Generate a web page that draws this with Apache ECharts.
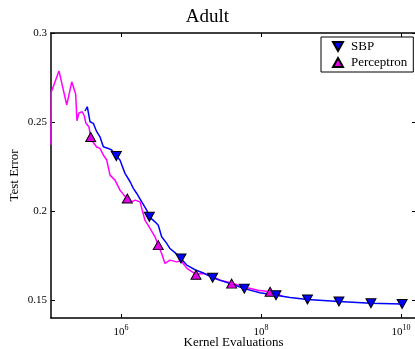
<!DOCTYPE html>
<html><head><meta charset="utf-8">
<script src="https://cdn.jsdelivr.net/npm/echarts@6/dist/echarts.min.js"></script>
<style>html,body{margin:0;padding:0;background:#fff}#c{width:415px;height:349px}</style>
</head><body><div id="c"></div>
<script>
// Kernel evaluations (x) and test error (y)
const sbpX = [3.06e5,3.30e5,3.61e5,4.02e5,4.50e5,5.01e5,5.59e5,6.59e5,7.36e5,8.57e5,9.67e5,1.14e6,1.35e6,1.50e6,1.68e6,1.98e6,2.33e6,2.54e6,3.06e6,3.41e6,3.81e6,4.50e6,5.01e6,5.91e6,7.20e6,8.68e6,9.67e6,1.14e7,1.50e7,2.04e7,3.06e7,4.25e7,5.77e7,9.67e7,1.64e8,2.60e8,4.62e8,1.30e9,3.73e9,1.04e10];
const sbpY = [0.2562,0.2586,0.2502,0.2493,0.2446,0.2417,0.2361,0.2352,0.2343,0.2309,0.2287,0.2212,0.2165,0.2128,0.2099,0.2052,0.2006,0.1968,0.1940,0.1921,0.1856,0.1819,0.1790,0.1767,0.1734,0.1697,0.1687,0.1671,0.1653,0.1626,0.1603,0.1584,0.1565,0.1542,0.1528,0.1515,0.1504,0.1493,0.1483,0.1479];
const percX = [1.00e5,1.01e5,1.30e5,1.68e5,1.98e5,2.25e5,2.35e5,2.51e5,2.80e5,2.99e5,3.16e5,3.30e5,3.49e5,3.69e5,3.98e5,4.50e5,5.01e5,5.59e5,6.25e5,6.97e5,8.21e5,9.67e5,1.10e6,1.22e6,1.42e6,1.59e6,1.87e6,2.20e6,2.60e6,3.06e6,3.41e6,3.81e6,4.25e6,5.01e6,6.25e6,7.20e6,8.68e6,1.00e7,1.18e7,1.50e7,1.87e7,2.60e7,3.81e7,5.91e7,9.06e7,1.35e8,1.75e8,2.06e8];
const percY = [0.2371,0.2669,0.2787,0.2596,0.2726,0.2657,0.2507,0.2551,0.2558,0.2534,0.2493,0.2502,0.2472,0.2416,0.2388,0.2360,0.2352,0.2315,0.2287,0.2202,0.2174,0.2118,0.2090,0.2073,0.2052,0.2062,0.2052,0.1949,0.1903,0.1856,0.1809,0.1762,0.1706,0.1725,0.1715,0.1721,0.1680,0.1663,0.1646,0.1650,0.1640,0.1612,0.1597,0.1573,0.1556,0.1547,0.1534,0.1520];
// marker positions
const sbpMarkX = [8.57e5,2.54e6,7.20e6,2.04e7,5.77e7,1.64e8,4.62e8,1.30e9,3.73e9,1.04e10];
const sbpMarkY = [0.2309,0.1968,0.1734,0.1626,0.1565,0.1528,0.1504,0.1493,0.1483,0.1479];
const percMarkX = [3.69e5,1.23e6,3.41e6,1.18e7,3.81e7,1.35e8];
const percMarkY = [0.2416,0.2071,0.1809,0.1643,0.1593,0.1547];
// ticks
const xTicks = [1e6,1e8,1e10];
const yTicks = [0.15,0.2,0.25,0.3];

const zip = (a,b) => a.map((v,i)=>[v,b[i]]);
const F = 'Liberation Serif';
const chart = echarts.init(document.getElementById('c'), null, {renderer:'canvas'});
const axisLine = {show:true, onZero:false, lineStyle:{color:'#000', width:1.5}};
const xFmt = v => '{b|10}{s|' + Math.round(Math.log10(v)) + '}';
chart.setOption({
  animation:false,
  backgroundColor:'#fff',
  title:{text:'Adult', left:'center', top:3, textStyle:{fontFamily:F, fontSize:19, fontWeight:'normal', color:'#000'}},
  grid:{left:51, top:33, width:365, height:285, containLabel:false, outerBoundsMode:'none'},
  legend:{
    orient:'vertical', left:321, top:37,
    backgroundColor:'#fff', borderColor:'#000', borderWidth:1,
    padding:[3,6,3,11], itemGap:3, itemWidth:10, itemHeight:9,
    textStyle:{fontFamily:F, fontSize:13, color:'#000', padding:[0,0,0,3]},
    data:[{name:'SBP', icon:'path://M0,0L10,0L5,9Z'},{name:'Perceptron', icon:'path://M5,0L10,9L0,9Z'}]
  },
  xAxis:[{
    type:'log', logBase:10, min:1e5, max:1.64e10, position:'bottom',
    name:'Kernel Evaluations', nameLocation:'middle', nameGap:18, nameMoveOverlap:false,
    nameTextStyle:{fontFamily:F, fontSize:13, color:'#000'},
    axisLine:axisLine,
    axisTick:{inside:true, length:4, lineStyle:{color:'#000'}, customValues:xTicks},
    axisLabel:{customValues:xTicks, formatter:xFmt, margin:6, color:'#000',
      rich:{b:{fontFamily:F, fontSize:11, color:'#000'}, s:{fontFamily:F, fontSize:8, color:'#000', padding:[0,0,8,0]}}},
    splitLine:{show:false}, minorTick:{show:false}
  },{
    type:'log', logBase:10, min:1e5, max:1.64e10, position:'top',
    axisLine:axisLine,
    axisTick:{inside:true, length:4, lineStyle:{color:'#000'}, customValues:xTicks},
    axisLabel:{show:false}, splitLine:{show:false}
  }],
  yAxis:[{
    type:'value', min:0.14, max:0.3, position:'left',
    name:'Test Error', nameLocation:'middle', nameGap:30, nameMoveOverlap:false,
    nameTextStyle:{fontFamily:F, fontSize:13, color:'#000'},
    axisLine:axisLine,
    axisTick:{show:true, inside:true, length:4, lineStyle:{color:'#000'}, customValues:yTicks},
    axisLabel:{customValues:yTicks, margin:4, fontFamily:F, fontSize:11, color:'#000'},
    splitLine:{show:false}
  },{
    type:'value', min:0.14, max:0.3, position:'right',
    axisLine:axisLine,
    axisTick:{show:true, inside:true, length:4, lineStyle:{color:'#000'}, customValues:yTicks},
    axisLabel:{show:false}, splitLine:{show:false}
  }],
  series:[
    {name:'Perceptron curve', type:'line', data:zip(percX,percY), showSymbol:false, symbol:'none',
     lineStyle:{color:'#ff00ff', width:1.5}, itemStyle:{color:'#ff00ff'}, z:2},
    {name:'SBP curve', type:'line', data:zip(sbpX,sbpY), showSymbol:false, symbol:'none',
     lineStyle:{color:'#0000ff', width:1.5}, itemStyle:{color:'#0000ff'}, z:3},
    {name:'Perceptron', type:'scatter', data:zip(percMarkX,percMarkY), symbol:'triangle', symbolSize:[10,9],
     itemStyle:{color:'#e600e6', borderColor:'#000', borderWidth:1, opacity:1}, z:5},
    {name:'SBP', type:'scatter', data:zip(sbpMarkX,sbpMarkY), symbol:'triangle', symbolRotate:180, symbolSize:[10,9],
     itemStyle:{color:'#0000ff', borderColor:'#000', borderWidth:1, opacity:1}, z:5}
  ]
});
</script></body></html>
